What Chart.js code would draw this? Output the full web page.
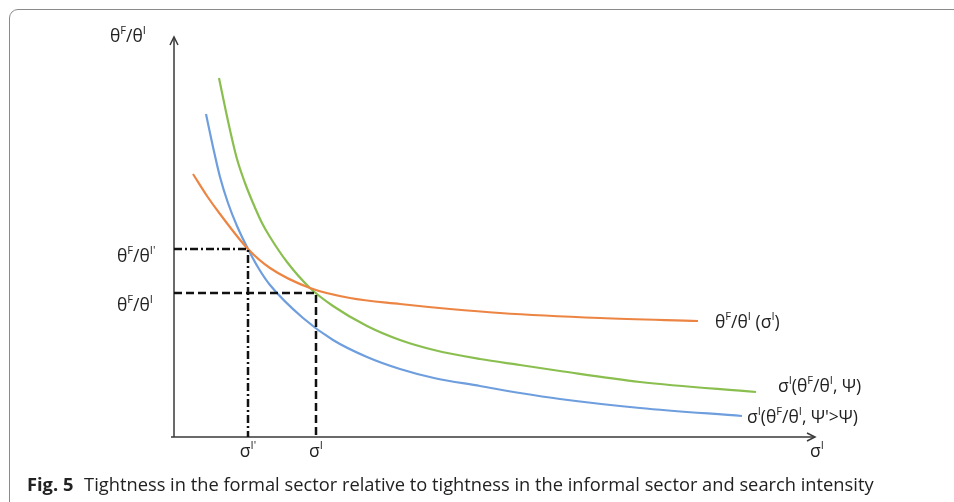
<!DOCTYPE html>
<html>
<head>
<meta charset="utf-8">
<script src="https://cdn.jsdelivr.net/npm/chart.js@4/dist/chart.umd.min.js"></script>
<style>
  html, body { margin: 0; padding: 0; background: #fff; overflow: hidden; }
  #wrap { position: relative; width: 954px; height: 502px; }
  #frame { position: absolute; left: 9px; top: 9px; width: 960px; height: 520px;
           border: 1px solid #8a8a8a; border-radius: 9px; box-sizing: border-box; }
  canvas { position: absolute; left: 0; top: 0; }
  #caption { position: absolute; left: 27px; top: 471px; font-family: "Open Sans", sans-serif;
             font-size: 18.3px; line-height: 26px; color: #222; white-space: nowrap; }
  #caption b { font-weight: 700; margin-right: 6px; }
</style>
</head>
<body>
<div id="wrap">
  <div id="frame"></div>
  <canvas id="c" width="954" height="502"></canvas>
  <div id="caption"><b>Fig. 5</b> Tightness in the formal sector relative to tightness in the informal sector and search intensity</div>
</div>
<script>
// ---- data (arbitrary units) ----
const orangeX = [19, 33, 46, 74, 96, 136, 176, 226, 276, 326, 426, 524];
const orangeY = [263, 241, 223, 188, 169, 149, 139, 133, 128, 124, 119, 116];

const greenX = [45, 51, 56, 63, 71, 79, 88, 96, 113, 136, 159, 193, 226, 260, 306, 346, 386, 466, 582];
const greenY = [359, 330, 307, 278, 254, 234, 214, 200, 175, 149, 131, 111, 97, 87, 78, 72, 66, 55, 45];

const blueX = [32, 39, 46, 54, 63, 74, 85, 96, 129, 159, 193, 226, 260, 306, 346, 386, 466, 568];
const blueY = [323, 290, 260, 234, 211, 188, 168, 152, 119, 97, 80, 68, 59, 51, 44, 38, 29, 21];

// equilibrium values
const sigmaPrime = 74;     // σI'
const thetaPrime = 188;    // θF/θI'
const sigmaEq = 142;       // σI
const thetaEq = 144;       // θF/θI

const xMax = 641, yMax = 400;

// labels
const seriesLabels = ["θ^{F}/θ^{I} (σ^{I})", "σ^{I}(θ^{F}/θ^{I}, Ψ)", "σ^{I}(θ^{F}/θ^{I}, Ψ'>Ψ)"];
const yAxisTitle = "θ^{F}/θ^{I}";
const xAxisTitle = "σ^{I}";
const yTickLabels = ["θ^{F}/θ^{I'}", "θ^{F}/θ^{I}"];
const xTickLabels = ["σ^{I'}", "σ^{I}"];

const zip = (xs, ys) => xs.map((x, i) => ({x, y: ys[i]}));

// rich text with superscripts: ^{...}
function parseRich(s) {
  const segs = [];
  let i = 0, buf = '';
  while (i < s.length) {
    if (s[i] === '^' && s[i+1] === '{') {
      if (buf) { segs.push({t: buf, sup: false}); buf = ''; }
      const j = s.indexOf('}', i);
      segs.push({t: s.slice(i+2, j), sup: true});
      i = j + 1;
    } else { buf += s[i]; i++; }
  }
  if (buf) segs.push({t: buf, sup: false});
  return segs;
}
const FONT = '"Open Sans", "Noto Sans", sans-serif';
function drawRich(ctx, str, x, y, size, align) {
  const segs = parseRich(str);
  const supSize = size * 0.64;
  let w = 0;
  segs.forEach(s => {
    ctx.font = (s.sup ? supSize : size) + 'px ' + FONT;
    s.w = ctx.measureText(s.t).width;
    w += s.w;
  });
  let cx = align === 'center' ? x - w / 2 : (align === 'right' ? x - w : x);
  ctx.textBaseline = 'middle';
  ctx.textAlign = 'left';
  segs.forEach(s => {
    ctx.font = (s.sup ? supSize : size) + 'px ' + FONT;
    ctx.fillText(s.t, cx, s.sup ? y - size * 0.33 : y);
    cx += s.w;
  });
}

const annotPlugin = {
  id: 'annot',
  beforeDatasetsDraw(chart) {
    const {ctx, scales: {x, y}} = chart;
    const ox = x.getPixelForValue(0), oy = y.getPixelForValue(0);
    const tx = x.getPixelForValue(xMax), ty = y.getPixelForValue(yMax);
    ctx.save();
    ctx.strokeStyle = '#3a3a3a';
    ctx.lineWidth = 1.5;
    ctx.beginPath();
    ctx.moveTo(ox - 3, oy); ctx.lineTo(tx, oy);
    ctx.moveTo(ox, oy); ctx.lineTo(ox, ty);
    ctx.stroke();
    // arrowheads
    ctx.beginPath();
    ctx.moveTo(tx - 8, oy - 4); ctx.lineTo(tx, oy); ctx.lineTo(tx - 8, oy + 4);
    ctx.moveTo(ox - 4, ty + 8); ctx.lineTo(ox, ty); ctx.lineTo(ox + 4, ty + 8);
    ctx.stroke();
    ctx.restore();
  },
  afterDraw(chart) {
    const {ctx, scales: {x, y}} = chart;
    const ox = x.getPixelForValue(0), oy = y.getPixelForValue(0);
    ctx.save();
    ctx.fillStyle = '#222';
    const fs = 17.5;
    drawRich(ctx, yAxisTitle, ox - 64, y.getPixelForValue(yMax), fs, 'left');
    drawRich(ctx, xAxisTitle, x.getPixelForValue(xMax) + 2, oy + 15, fs, 'center');
    drawRich(ctx, yTickLabels[0], ox - 57, y.getPixelForValue(thetaPrime) + 8, fs, 'left');
    drawRich(ctx, yTickLabels[1], ox - 57, y.getPixelForValue(thetaEq) + 13, fs, 'left');
    drawRich(ctx, xTickLabels[0], x.getPixelForValue(sigmaPrime), oy + 15, fs, 'center');
    drawRich(ctx, xTickLabels[1], x.getPixelForValue(sigmaEq), oy + 15, fs, 'center');
    const endLabel = (xs, ys, str, dx, dy) =>
      drawRich(ctx, str, x.getPixelForValue(xs[xs.length-1]) + dx, y.getPixelForValue(ys[ys.length-1]) + dy, fs, 'left');
    endLabel(orangeX, orangeY, seriesLabels[0], 17, 2);
    endLabel(greenX, greenY, seriesLabels[1], 22, -5);
    endLabel(blueX, blueY, seriesLabels[2], 5, 2);
    ctx.restore();
  }
};

const curve = (data, color) => ({
  data, borderColor: color, borderWidth: 2.2, showLine: true, pointRadius: 0,
  cubicInterpolationMode: 'monotone', order: 1, fill: false
});
const guide = (data, dash) => ({
  data, borderColor: '#111', borderWidth: 2.5, showLine: true, pointRadius: 0,
  borderDash: dash, borderCapStyle: 'butt', tension: 0, order: 0, fill: false
});

new Chart(document.getElementById('c'), {
  type: 'scatter',
  data: {
    datasets: [
      guide([{x: 0, y: thetaPrime}, {x: sigmaPrime, y: thetaPrime}, {x: sigmaPrime, y: 0}], [8, 3, 2, 3]),
      guide([{x: 0, y: thetaEq}, {x: sigmaEq, y: thetaEq}, {x: sigmaEq, y: 0}], [8, 4]),
      curve(zip(orangeX, orangeY), '#EC8543'),
      curve(zip(greenX, greenY), '#8ABF50'),
      curve(zip(blueX, blueY), '#6E9EDD')
    ]
  },
  options: {
    responsive: false,
    animation: false,
    devicePixelRatio: 1,
    layout: { padding: { left: 174, right: 139, top: 37, bottom: 65 } },
    scales: {
      x: { type: 'linear', min: 0, max: xMax, display: false },
      y: { type: 'linear', min: 0, max: yMax, display: false }
    },
    plugins: { legend: { display: false }, tooltip: { enabled: false } }
  },
  plugins: [annotPlugin]
});
</script>
</body>
</html>
